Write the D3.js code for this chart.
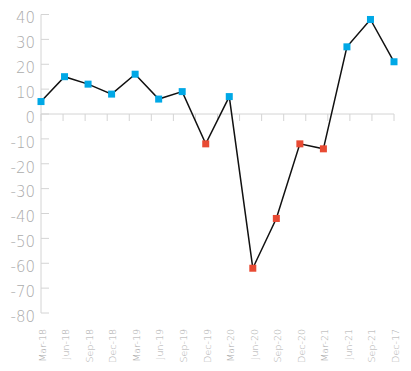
<!DOCTYPE html>
<html><head><meta charset="utf-8">
<script src="https://cdn.jsdelivr.net/npm/d3@7"></script>
<style>
html,body{margin:0;padding:0;background:#fff;}
svg{display:block;}
text{font-family:"DejaVu Sans",sans-serif;}
</style></head>
<body><svg id="c" width="411" height="371"></svg>
<script>
const categories = ["Mar-18","Jun-18","Sep-18","Dec-18","Mar-19","Jun-19","Sep-19","Dec-19","Mar-20","Jun-20","Sep-20","Dec-20","Mar-21","Jun-21","Sep-21","Dec-17"];
const values = [5,15,12,8,16,6,9,-12,7,-62,-42,-12,-14,27,38,21];
const yTicks = [40,30,20,10,0,-10,-20,-30,-40,-50,-60,-70,-80];

(function(){
const svg = d3.select("#c");
const L = 41, R = 394, T = 14.5, B = 313;
const x = d3.scalePoint().domain(categories).range([L, R]);
const xb = d3.scaleBand().domain(categories).range([L, R]);
const y = d3.scaleLinear().domain([-80, 40]).range([B, T]);
const grey = "#d4d4d4", lab = "#ababab";

svg.append("line").attr("x1", L).attr("x2", L).attr("y1", y(40)).attr("y2", y(-80))
  .attr("stroke", grey).attr("stroke-width", 1);
yTicks.forEach(t => {
  svg.append("line").attr("x1", L).attr("x2", L + 8).attr("y1", y(t)).attr("y2", y(t))
    .attr("stroke", grey).attr("stroke-width", 1);
  svg.append("text").attr("x", 35).attr("y", y(t) + 8.8).attr("text-anchor", "end")
    .attr("font-size", 15).attr("font-weight", 200).attr("fill", lab).text(t);
});
svg.append("line").attr("x1", L).attr("x2", R).attr("y1", y(0)).attr("y2", y(0))
  .attr("stroke", grey).attr("stroke-width", 1);
const tickPos = categories.map(c => xb(c)).concat([R]);
tickPos.forEach(p => {
  svg.append("line").attr("x1", p).attr("x2", p).attr("y1", y(0)).attr("y2", y(0) + 7)
    .attr("stroke", grey).attr("stroke-width", 1);
});
categories.forEach(c => {
  svg.append("text").attr("transform", `translate(${x(c) + 1.5},329) rotate(-90)`)
    .attr("text-anchor", "end").attr("dy", "0.35em")
    .attr("font-size", 9.5).attr("font-weight", 200).attr("fill", lab).text(c);
});
const line = d3.line().x((d, i) => x(categories[i])).y(d => y(d));
svg.append("path").datum(values).attr("d", line).attr("fill", "none")
  .attr("stroke", "#111").attr("stroke-width", 1.5);
const s = 7;
svg.selectAll("rect.m").data(values).enter().append("rect")
  .attr("x", (d, i) => x(categories[i]) - s / 2).attr("y", d => y(d) - s / 2)
  .attr("width", s).attr("height", s)
  .attr("fill", d => d >= 0 ? "#00a8e6" : "#e84a33");
})();
</script></body></html>
